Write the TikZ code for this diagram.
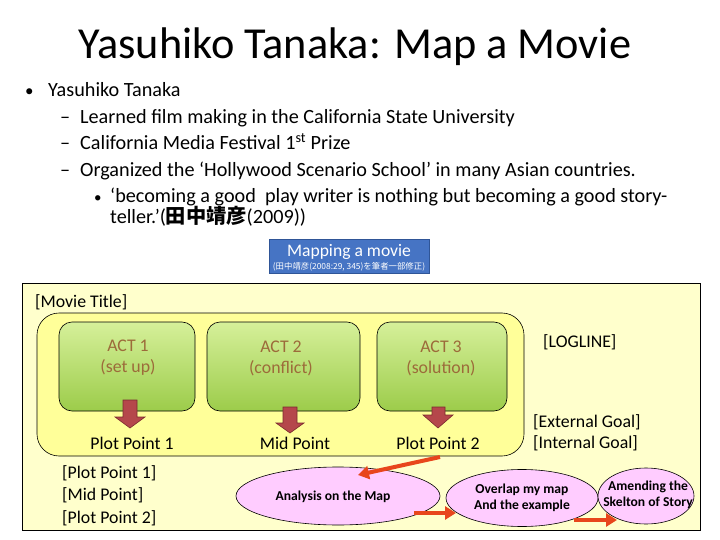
\documentclass[tikz,border=0pt]{standalone}
\usepackage{fontspec}
\setmainfont{Carlito}
\newfontfamily\cjk{Noto Sans CJK JP}
\usetikzlibrary{shapes.geometric,arrows.meta}
\definecolor{panel}{HTML}{FFFFCC}
\definecolor{outerfill}{HTML}{FFFF99}
\definecolor{greentop}{HTML}{D6F09A}
\definecolor{greenbot}{HTML}{9CCC4A}
\definecolor{acttext}{HTML}{9C6B3A}
\definecolor{bluebox}{HTML}{4674C4}
\definecolor{blueedge}{HTML}{2F5597}
\definecolor{blockred}{HTML}{B5474B}
\definecolor{blockedge}{HTML}{7A2A2E}
\definecolor{redarrow}{HTML}{E8461C}
\definecolor{pink}{HTML}{FFCCFF}
\tikzset{
  body/.style={anchor=base west, font=\fontsize{20.2}{23}\selectfont, inner sep=0},
  act/.style={draw=black, rounded corners=13, top color=greentop, bottom color=greenbot, line width=0.6},
  acttxt/.style={text=acttext, font=\fontsize{17.8}{21}\selectfont, align=center},
  plain/.style={font=\fontsize{17.8}{20}\selectfont, inner sep=0},
  ell/.style={ellipse, draw=black, fill=pink, inner sep=0, line width=0.6},
  elltxt/.style={font=\bfseries\fontsize{13.6}{16}\selectfont, align=center, inner sep=0},
  redarr/.style={draw=redarrow, line width=4, -{Triangle[width=13,length=11]}},
  blockarrow/.style={fill=blockred, draw=blockedge, line width=0.6}
}
\begin{document}
\begin{tikzpicture}[x=1pt,y=-1pt]
\useasboundingbox (0,0) rectangle (720,540);
\fill[white] (0,0) rectangle (720,540);
% title
\node[font=\fontsize{44.3}{50}\selectfont, anchor=base] (title) at (355,59) {Yasuhiko Tanaka: Map a Movie};
% bullets
\node[body, font=\fontsize{17}{20}\selectfont] (b0) at (25,97) {•};
\node[body] (t0) at (48,97) {Yasuhiko Tanaka};
\node[body] (d1) at (60,124) {–};
\node[body] (t1) at (80,124) {Learned film making in the California State University};
\node[body] (d2) at (60,150) {–};
\node[body] (t2) at (80,150) {California Media Festival 1\textsuperscript{st} Prize};
\node[body] (d3) at (60,177) {–};
\node[body] (t3) at (80,177) {Organized the ‘Hollywood Scenario School’ in many Asian countries.};
\node[body, font=\fontsize{15}{20}\selectfont] (b4) at (94,203) {•};
\node[body] (t4) at (110,203) {‘becoming a good\ \ play writer is nothing but becoming a good story-};
\node[body] (t5) at (110,224) {teller.’({\cjk\bfseries 田中靖彦}(2009))};
% blue box
\node[draw=blueedge, fill=bluebox, minimum width=160, minimum height=34, inner sep=0, anchor=north west] (blue) at (269,239) {};
\node[text=white, font=\fontsize{17.6}{20}\selectfont, anchor=base] (bluet) at (349,256) {Mapping a movie};
\node[text=white, font=\cjk\fontsize{8.4}{9}\selectfont, anchor=base] (blues) at (349,269) {(田中靖彦(2008:29, 345)を筆者一部修正)};
% panel
\draw[fill=panel, line width=0.8] (22,283) rectangle (700,530);
\node[plain, anchor=base west] (mt) at (35,307) {[Movie Title]};
% outer rounded rect
\draw[fill=outerfill, rounded corners=22, line width=0.6] (37,313) rectangle (524,456);
% acts
\draw[act] (59,322) rectangle (195,411);
\draw[act] (207,322) rectangle (360,411);
\draw[act] (377,322) rectangle (507,411);
\node[acttxt] (a1) at (128,358) {ACT 1\\(set up)};
\node[acttxt] (a2) at (281,358) {ACT 2\\(conflict)};
\node[acttxt] (a3) at (441,358) {ACT 3\\(solution)};
% block arrows
\draw[blockarrow] (123,400) -- (137,400) -- (137,417) -- (145,417) -- (130,428) -- (115,417) -- (123,417) -- cycle;
\draw[blockarrow] (283,407) -- (297,407) -- (297,423) -- (304,423) -- (290,433) -- (276,423) -- (283,423) -- cycle;
\draw[blockarrow] (432,407) -- (445,407) -- (445,415) -- (453,415) -- (438,428) -- (423,415) -- (432,415) -- cycle;
% plot points
\node[plain] (pp1) at (132,443) {Plot Point 1};
\node[plain] (mp) at (295,443) {Mid Point};
\node[plain] (pp2) at (438,443) {Plot Point 2};
% right labels
\node[plain, anchor=base west] (log) at (543,347) {[LOGLINE]};
\node[plain, anchor=base west] (eg) at (533,427) {[External Goal]};
\node[plain, anchor=base west] (ig) at (533,448) {[Internal Goal]};
% left list
\node[plain, anchor=base west] (l1) at (62,478) {[Plot Point 1]};
\node[plain, anchor=base west] (l2) at (62,500) {[Mid Point]};
\node[plain, anchor=base west] (l3) at (62,523) {[Plot Point 2]};
% ellipses
\node[ell, minimum width=204, minimum height=58] (an) at (338,496) {};
\node[elltxt] (ant) at (333,497) {Analysis on the Map};
\node[ell, minimum width=152, minimum height=57] (ov) at (522,498) {};
\node[elltxt] (ovt) at (522,498) {Overlap my map\\And the example};
\node[ell, minimum width=96, minimum height=56] (am) at (646,496) {};
\node[elltxt] (amt) at (648,495) {Amending the\\Skelton of Story};
% red arrows
\coordinate (r1s) at (440,457);
\coordinate (r1e) at (358,475);
\draw[redarr] (r1s) -- (r1e);
\coordinate (r2s) at (414,513);
\coordinate (r2e) at (456,513);
\draw[redarr] (r2s) -- (r2e);
\coordinate (r3s) at (574,520);
\coordinate (r3e) at (617,520);
\draw[redarr] (r3s) -- (r3e);
\end{tikzpicture}
\end{document}
